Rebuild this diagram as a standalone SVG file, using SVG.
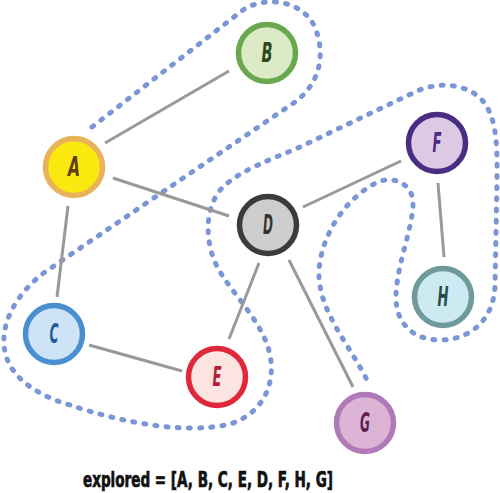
<svg xmlns="http://www.w3.org/2000/svg" width="500" height="493" viewBox="0 0 500 493">
<style>
.edge{stroke:#999;stroke-width:3;fill:none;stroke-linecap:butt}
.trail{fill:none;stroke:#7b96d4;stroke-width:5;stroke-linecap:round;stroke-dasharray:2 9.2}
.node circle{stroke-width:5.5}
.node text{font-family:"DejaVu Sans","Liberation Sans",sans-serif;font-stretch:condensed;font-weight:bold;font-style:italic;font-size:26px;text-anchor:middle}
.caption{font-family:"DejaVu Sans","Liberation Sans",sans-serif;font-stretch:condensed;font-weight:bold;font-size:21px;fill:#111;stroke:#111;stroke-width:0.7}
</style>
<rect width="500" height="493" fill="#fff"/>
<path class="trail" d="M92 127 L243 10 C265 -5 305 0 316 30 C326 58 318 85 295 102 L45 272 C18 292 2 320 4 345 C6 375 35 395 70 405 C120 422 185 435 230 424 C262 414 276 385 270 355 C264 325 238 300 222 275 C205 250 202 210 222 188 C240 170 270 160 300 147 L415 92 C435 82 465 82 482 100 C498 118 497 150 497 180 L495 285 C494 320 470 340 440 340 C410 340 395 320 396 295 C397 265 412 230 413 205 C414 185 395 175 378 182 C350 195 322 230 319 270 C317 310 350 345 368 382"/>
<g id="connectors">
<line class="edge" x1="105" y1="143" x2="229" y2="71"/>
<line class="edge" x1="113" y1="178" x2="229" y2="216"/>
<line class="edge" x1="68" y1="206" x2="57" y2="297"/>
<line class="edge" x1="303" y1="207" x2="401" y2="161"/>
<line class="edge" x1="259" y1="263" x2="229" y2="339"/>
<line class="edge" x1="289" y1="260" x2="353" y2="387"/>
<line class="edge" x1="438" y1="183" x2="444" y2="257"/>
<line class="edge" x1="89" y1="345" x2="182" y2="371"/>
</g>
<g id="node-A" class="node"><circle cx="74" cy="167" r="28.5" fill="#fbe80f" stroke="#e8b35a"/><text x="74" y="176" fill="#5c3f1a" textLength="12" lengthAdjust="spacingAndGlyphs">A</text></g>
<g id="node-B" class="node"><circle cx="267" cy="53" r="28.5" fill="#dcebc6" stroke="#6aa84f"/><text x="267" y="62" fill="#2b4a1a" textLength="11" lengthAdjust="spacingAndGlyphs">B</text></g>
<g id="node-C" class="node"><circle cx="54" cy="334" r="28.5" fill="#cfe3f6" stroke="#4a90d0"/><text x="54" y="343" fill="#1c5c9c" textLength="9" lengthAdjust="spacingAndGlyphs">C</text></g>
<g id="node-D" class="node"><circle cx="268" cy="225" r="28.5" fill="#cdcdcd" stroke="#3b3b3b"/><text x="268" y="234" fill="#333" textLength="10" lengthAdjust="spacingAndGlyphs">D</text></g>
<g id="node-E" class="node"><circle cx="217" cy="377" r="28.5" fill="#fce5e1" stroke="#e0283c"/><text x="217" y="386" fill="#b0203a" textLength="9" lengthAdjust="spacingAndGlyphs">E</text></g>
<g id="node-F" class="node"><circle cx="437" cy="143" r="28.5" fill="#dccae4" stroke="#4a2c82"/><text x="437" y="152" fill="#4a2c82" textLength="9" lengthAdjust="spacingAndGlyphs">F</text></g>
<g id="node-G" class="node"><circle cx="365" cy="423" r="28.5" fill="#deb4d6" stroke="#b07ab8"/><text x="365" y="432" fill="#5a1f55" textLength="10" lengthAdjust="spacingAndGlyphs">G</text></g>
<g id="node-H" class="node"><circle cx="443" cy="297" r="28.5" fill="#cdeaf2" stroke="#6e9a9a"/><text x="443" y="306" fill="#2a4a4a" textLength="11" lengthAdjust="spacingAndGlyphs">H</text></g>
<text class="caption" x="83" y="487" textLength="250" lengthAdjust="spacingAndGlyphs">explored = [A, B, C, E, D, F, H, G]</text>
</svg>
